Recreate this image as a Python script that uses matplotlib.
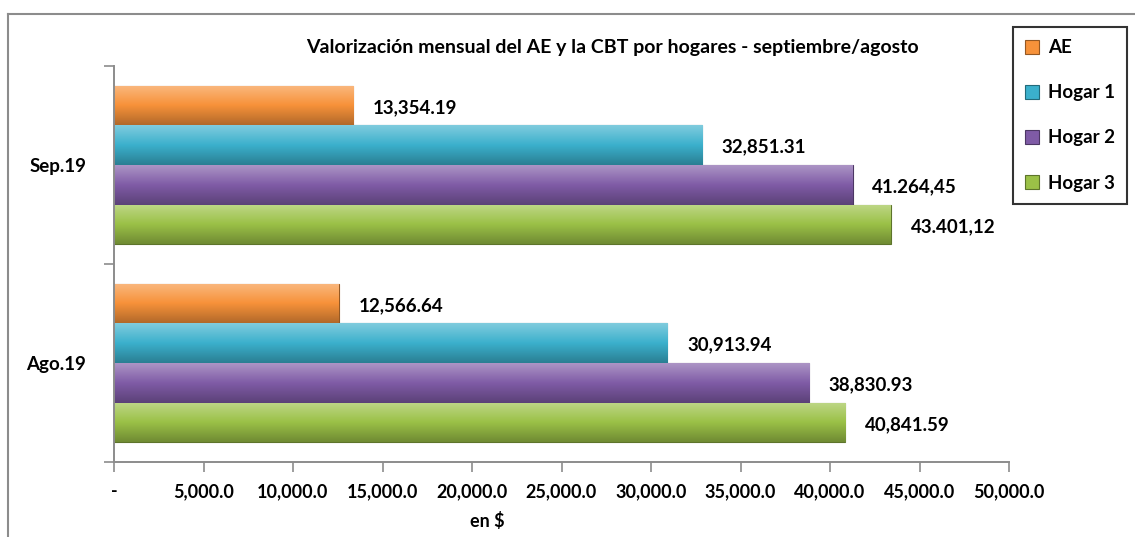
import numpy as np
import matplotlib
matplotlib.use("Agg")
import matplotlib.pyplot as plt
from matplotlib.colors import to_rgb
from matplotlib.ticker import FuncFormatter
from matplotlib.lines import Line2D

plt.rcParams['font.family'] = ['Lato', 'DejaVu Sans']
plt.rcParams['font.weight'] = 'bold'

# data
periodos = ['Ago.19', 'Sep.19']
series = ['AE', 'Hogar 1', 'Hogar 2', 'Hogar 3']
ae = [12566.64, 13354.19]
hogar1 = [30913.94, 32851.31]
hogar2 = [38830.93, 41264.45]
hogar3 = [40841.59, 43401.12]
etiquetas = [['12,566.64', '13,354.19'],
             ['30,913.94', '32,851.31'],
             ['38,830.93', '41.264,45'],
             ['40,841.59', '43.401,12']]
colores = ['#F7923A', '#3BB0CC', '#7F5BA6', '#9BC147']

fig = plt.figure(figsize=(11.35, 5.37), dpi=100)
ax = fig.add_axes([114/1135, 1-462/537, 895/1135, 396/537])

y = np.arange(len(periodos))
h = 0.2
offs = [0.3, 0.1, -0.1, -0.3]
vals = [ae, hogar1, hogar2, hogar3]

def grad_bar(p, c):
    # bisel falso: arriba claro, abajo oscuro
    base = np.array(to_rgb(c))
    top = base + (1 - base)*0.35
    bot = base*0.72
    t = np.linspace(0, 1, 64)[:, None]
    col = np.where(t < 0.5, top + (base-top)*(t/0.5), base + (bot-base)*((t-0.5)/0.5))
    img = col[:, None, :]
    x0, y0 = p.get_x(), p.get_y()
    w, hh = p.get_width(), p.get_height()
    im = ax.imshow(img, extent=[x0, x0+w, y0, y0+hh], origin='upper',
                   aspect='auto', zorder=2)
    im.set_clip_path(p)

for i in range(4):
    bars = ax.barh(y + offs[i], vals[i], height=h, color=colores[i],
                   edgecolor=tuple(np.array(to_rgb(colores[i]))*0.6), linewidth=0.8,
                   label=series[i], zorder=1)
    for p in bars:
        grad_bar(p, colores[i])
    for j, b in enumerate(bars):
        ax.text(b.get_width() + 1100, b.get_y() + b.get_height()/2 - 0.01, etiquetas[i][j],
                va='center', ha='left', fontsize=13.5, fontweight='bold', color='black')

ax.set_xlim(0, 50000)
ax.set_ylim(-0.5, 1.5)
ax.set_xticks(np.arange(0, 50001, 5000))
ax.xaxis.set_major_formatter(FuncFormatter(lambda v, pos: '-' if v == 0 else f'{v:,.1f}'))
ax.set_yticks(y)
ax.set_yticklabels(periodos)
ax.set_yticks([-0.5, 0.5, 1.5], minor=True)
ax.tick_params(axis='y', which='major', length=0, pad=20, labelsize=13.5)
ax.tick_params(axis='y', which='minor', length=7, color='#8c8c8c', width=1.2)
ax.tick_params(axis='x', length=7, color='#8c8c8c', width=1.2, pad=8, labelsize=13)
for s in ['top', 'right']:
    ax.spines[s].set_visible(False)
for s in ['left', 'bottom']:
    ax.spines[s].set_color('#8c8c8c')
    ax.spines[s].set_linewidth(1.4)

fig.text(487/1135, 1-521/537, 'en $', ha='center', va='center', fontsize=13, fontweight='bold')
fig.text(612/1135, 1-47/537, 'Valorización mensual del AE y la CBT por hogares - septiembre/agosto',
         ha='center', va='center', fontsize=14, fontweight='bold')

handles, labels = ax.get_legend_handles_labels()
leg = fig.legend(handles, labels, loc='upper left', bbox_to_anchor=(1013/1135, 1-27/537),
                 frameon=True, fancybox=False, edgecolor='black', fontsize=13.5,
                 handlelength=0.75, handleheight=0.75, handletextpad=0.45,
                 labelspacing=1.5, borderpad=0.65, borderaxespad=0)
leg.get_frame().set_linewidth(1.5)

# borde exterior del grafico
fig.add_artist(Line2D([8/1135, 1], [1-14/537, 1-14/537], color='#8c8c8c', lw=1.5))
fig.add_artist(Line2D([8/1135, 8/1135], [0, 1-14/537], color='#8c8c8c', lw=1.5))

fig.savefig('out.png', dpi=100)
